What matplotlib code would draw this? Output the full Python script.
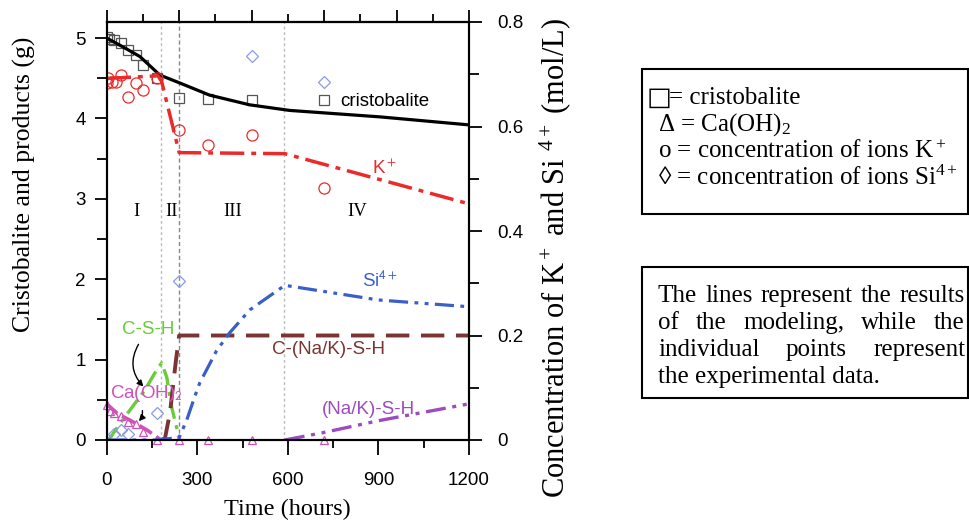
import matplotlib
matplotlib.use("Agg")
import matplotlib.pyplot as plt
from matplotlib.patches import Rectangle
from matplotlib.ticker import MultipleLocator

plt.rcParams["font.family"] = ["Liberation Sans", "DejaVu Sans"]
plt.rcParams["mathtext.fontset"] = "custom"
plt.rcParams["mathtext.rm"] = "Liberation Serif"
plt.rcParams["mathtext.it"] = "Liberation Serif:italic"

SERIF = ["Liberation Serif", "DejaVu Serif"]
W, H = 970, 523

# experimental points (hours)
t_cristo = [0, 6, 24, 48, 72, 96, 120, 168, 240, 336, 480, 720]
cristo_exp = [5.01, 4.99, 4.98, 4.94, 4.85, 4.79, 4.66, 4.50, 4.25, 4.24, 4.23, 4.23]
t_k = [0, 4, 16, 32, 48, 72, 96, 120, 168, 240, 336, 480, 720]
k_exp = [0.683, 0.693, 0.685, 0.685, 0.698, 0.656, 0.683, 0.670, 0.693, 0.593, 0.565, 0.584, 0.482]
t_si = [24, 48, 72, 168, 240, 480, 720]
si_exp = [0.012, 0.020, 0.012, 0.052, 0.304, 0.735, 0.685]
t_caoh = [0, 12, 24, 48, 72, 96, 120, 168, 240, 336, 480, 720]
caoh_exp = [0.44, 0.36, 0.33, 0.30, 0.22, 0.20, 0.10, 0.0, 0.0, 0.0, 0.0, 0.0]

# model curves
t_cristo_m = [0, 54, 110, 176, 243, 341, 473, 606, 904, 1200]
cristo_m = [5.0, 4.89, 4.77, 4.54, 4.44, 4.29, 4.17, 4.10, 4.02, 3.92]
t_k_m = [0, 170, 182, 240, 590, 1200]
k_m = [0.692, 0.697, 0.686, 0.550, 0.548, 0.452]
t_si_m = [0, 170, 240, 265, 291, 308, 364, 407, 474, 590, 900, 1200]
si_m = [0.0, 0.0, 0.005, 0.038, 0.082, 0.109, 0.171, 0.205, 0.249, 0.296, 0.268, 0.255]
t_csh = [0, 10, 53, 126, 159, 182, 199, 215, 232, 240]
csh_m = [0.0, 0.02, 0.25, 0.62, 0.83, 0.96, 0.78, 0.41, 0.15, 0.0]
t_caoh_m = [0, 35, 85, 135, 165, 180]
caoh_m = [0.45, 0.33, 0.23, 0.12, 0.04, 0.0]
t_cnksh = [180, 193, 210, 228, 240, 1200]
cnksh_m = [0.0, 0.02, 0.35, 0.95, 1.30, 1.30]
t_nksh = [590, 715, 900, 1200]
nksh_m = [0.0, 0.09, 0.24, 0.45]

stage_lines = [180, 240, 588]
stage_labels = [("I", 98), ("II", 216), ("III", 418), ("IV", 830)]
conc_ticks = [0, 0.2, 0.4, 0.6, 0.8]
conc_labels = ["0", "0.2", "0.4", "0.6", "0.8"]

RED = "#ec2a2a"
BLUE = "#3b5fc9"
GREEN = "#6acb3b"
PINK = "#cf52b8"
BROWN = "#7a3434"
PURPLE = "#9a4cc0"


def fx(x):
    return x / W


def fy(y):
    return 1 - y / H


fig = plt.figure(figsize=(9.7, 5.23), dpi=100)
ax = fig.add_axes([fx(106.7), fy(440), fx(469 - 106.7), (440 - 22) / H])
ax2 = ax.twinx()

ax.set_xlim(0, 1200)
ax.set_ylim(0, 5.2)

for xv, c, ls in zip(stage_lines, ["#bbbbbb", "#888888", "#bbbbbb"], [(0, (2, 2)), (0, (3, 2)), (0, (2, 2))]):
    ax.axvline(xv, color=c, lw=1, ls=ls, zorder=0)

# left-axis model lines
ax.plot(t_cristo_m, cristo_m, color="black", lw=2.3, zorder=5)
ax.plot(t_csh, csh_m, color=GREEN, lw=2.4, dashes=(5, 2, 1.2, 2))
ax.plot(t_caoh_m, caoh_m, color=PINK, lw=2.6, dashes=(4, 1.5))
ax.plot(t_cnksh, cnksh_m, color=BROWN, lw=2.8, dashes=(6, 3))
ax.plot(t_nksh, nksh_m, color=PURPLE, lw=2.4, dashes=(6, 2, 1.2, 2, 1.2, 2))

ax.plot(t_cristo, cristo_exp, ls="none", marker="s", ms=7, mfc="none", mec="#555555", mew=0.9)
ax.plot(t_caoh, caoh_exp, ls="none", marker="^", ms=6, mfc="none", mec=PINK, mew=0.9, clip_on=False)

# right-axis (concentrations)
ax2.plot(t_k_m, k_m, color=RED, lw=2.5, dashes=(7, 2, 1.4, 2))
ax2.plot(t_si_m, si_m, color=BLUE, lw=2.3, dashes=(6, 2, 1.2, 2, 1.2, 2))
ax2.plot(t_k, k_exp, ls="none", marker="o", ms=8, mfc="none", mec=RED, mew=0.9)
ax2.plot(t_si, si_exp, ls="none", marker="D", ms=6, mfc="none", mec="#8c9be0", mew=0.9)

# ticks
for a in (ax, ax2):
    for s in a.spines.values():
        s.set_linewidth(1.5)
ax.xaxis.set_major_locator(MultipleLocator(300))
ax.xaxis.set_minor_locator(MultipleLocator(150))
ax.yaxis.set_major_locator(MultipleLocator(1))
ax.yaxis.set_minor_locator(MultipleLocator(0.5))
ax2.set_yticks(conc_ticks, labels=conc_labels)
ax2.yaxis.set_minor_locator(MultipleLocator(0.1))
ax2.set_ylim(0, 0.8)
ax.tick_params(axis="x", which="major", length=11, width=1.3, pad=12, labelsize=13.5)
ax.tick_params(axis="x", which="minor", length=6, width=1.3)
ax.tick_params(axis="y", which="major", length=9, width=1.3, pad=6, labelsize=13.5)
ax.tick_params(axis="y", which="minor", length=7, width=1.3)
ax2.tick_params(axis="y", which="major", length=9.5, width=1.3, pad=11, labelsize=13.5)
ax2.tick_params(axis="y", which="minor", length=7, width=1.3)

top = ax.secondary_xaxis("top")
top.xaxis.set_major_locator(MultipleLocator(240))
top.xaxis.set_minor_locator(MultipleLocator(120))
top.tick_params(which="major", length=8.5, width=1.3, labeltop=False)
top.tick_params(which="minor", length=5.5, width=1.3)
top.spines["top"].set_linewidth(1.5)

# labels inside the plot
ax.text(922, 4.21, "cristobalite", fontsize=13.5, ha="center", va="center")
ax2.text(880, 0.52, r"K$^+$", color=RED, fontsize=13.5, ha="left", va="center", math_fontfamily="stixsans")
ax2.text(845, 0.305, r"Si$^{4+}$", color=BLUE, fontsize=13.5, ha="left", va="center", math_fontfamily="stixsans")
ax.text(547, 1.12, "C-(Na/K)-S-H", color=BROWN, fontsize=13.5, ha="left", va="center")
ax.text(713, 0.38, "(Na/K)-S-H", color=PURPLE, fontsize=13.5, ha="left", va="center")
ax.text(51, 1.37, "C-S-H", color=GREEN, fontsize=13.5, ha="left", va="center")
ax.text(12, 0.58, r"Ca(OH)$_2$", color=PINK, fontsize=13.5, ha="left", va="center", math_fontfamily="stixsans")
for lab, xv in stage_labels:
    ax.text(xv, 2.84, lab, family=SERIF, fontsize=13.5, ha="center", va="center")

ax.annotate("", xy=(128, 0.64), xytext=(110, 1.22),
            arrowprops=dict(arrowstyle="-|>", color="black", lw=1, mutation_scale=9,
                            connectionstyle="arc3,rad=0.4"))
ax.annotate("", xy=(100, 0.21), xytext=(117, 0.40),
            arrowprops=dict(arrowstyle="-|>", color="black", lw=1, mutation_scale=9,
                            connectionstyle="arc3,rad=-0.3"))

# axis titles
fig.text(fx(24), fy(184), "Cristobalite and products (g)", family=SERIF, fontsize=18.5,
         rotation=90, ha="center", va="center")
fig.text(fx(555), fy(258), r"Concentration of K$^+$ and Si $^{4+}$ (mol/L)", family=SERIF,
         fontsize=22, rotation=90, ha="center", va="center")
fig.text(fx(287), fy(509), "Time (hours)", family=SERIF, fontsize=17.5, ha="center", va="center")

# side boxes
for y0, y1 in [(69, 214), (267, 398)]:
    fig.patches.append(Rectangle((fx(642), fy(y1)), fx(968 - 642), (y1 - y0) / H,
                                 transform=fig.transFigure, fill=False, lw=1.5, ec="black"))

fig.text(fx(647), fy(105), "\u25a1", family=["DejaVu Sans"], fontsize=19, va="baseline")
fig.text(fx(669), fy(104), "= cristobalite", family=SERIF, fontsize=18, va="baseline")
legend_lines = ["\u0394 = Ca(OH)$_2$", "o = concentration of ions K$^+$",
                "\u25ca = concentration of ions Si$^{4+}$"]
for i, line in enumerate(legend_lines):
    fig.text(fx(658), fy(131 + 27 * i), line, family=SERIF, fontsize=18, va="baseline")

note_lines = ["The lines represent the results", "of the modeling, while the",
              "individual points represent", "the experimental data."]
renderer = fig.canvas.get_renderer()
for i, line in enumerate(note_lines):
    yb = fy(302 + 27 * i)
    if i == len(note_lines) - 1:
        fig.text(fx(658), yb, line, family=SERIF, fontsize=18, va="baseline")
        continue
    words = line.split()
    objs = [fig.text(fx(658), yb, w, family=SERIF, fontsize=18, va="baseline") for w in words]
    widths = [o.get_window_extent(renderer).width for o in objs]
    gap = ((965 - 658) - sum(widths)) / (len(words) - 1)
    pos = 658
    for o, wd in zip(objs, widths):
        o.set_x(fx(pos))
        pos += wd + gap

fig.savefig("out.png", dpi=100)
